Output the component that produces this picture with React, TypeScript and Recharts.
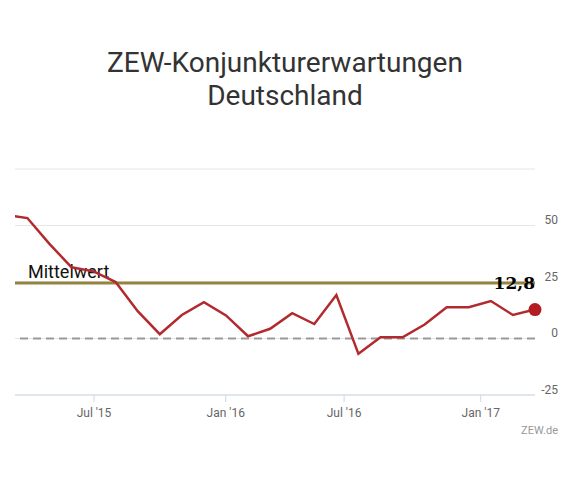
// ZEW-Konjunkturerwartungen Deutschland — monthly line with long-term mean.
import { LineChart, Line, XAxis, YAxis, CartesianGrid, ReferenceLine, ReferenceDot } from 'recharts';

// months Mär '15 .. Mär '17 (first point lies left of the visible range)
const monate = [
  "Mär '15", "Apr '15", "Mai '15", "Jun '15", "Jul '15", "Aug '15", "Sep '15", "Okt '15", "Nov '15", "Dez '15",
  "Jan '16", "Feb '16", "Mär '16", "Apr '16", "Mai '16", "Jun '16", "Jul '16", "Aug '16", "Sep '16", "Okt '16",
  "Nov '16", "Dez '16", "Jan '17", "Feb '17", "Mär '17",
];
const werte = [
  54.8, 53.3, 41.9, 31.5, 29.7, 25.0, 12.1, 1.9, 10.4, 16.1,
  10.2, 1.0, 4.3, 11.2, 6.4, 19.2, -6.8, 0.5, 0.5, 6.2,
  13.8, 13.8, 16.6, 10.4, 12.8,
];
const mittelwert = 24.6;

// tick positions in month units (index into monate)
const tickPos = [4.02, 9.99, 15.35, 21.54];
const tickLabels = ["Jul '15", "Jan '16", "Jul '16", "Jan '17"];
const yTicks = [-25, 0, 25, 50, 75];
const xStart = 0.44;

const data = werte.map((v, i) => ({ t: i, monat: monate[i], wert: v }));
const last = data[data.length - 1];

const font = 'Roboto, "Open Sans", sans-serif';

const XTick = (props: any) => {
  const { x, y, payload } = props;
  const i = tickPos.indexOf(payload.value);
  return (
    <text x={x} y={y} dy={12.5} textAnchor="middle" fontSize={12} fill="#666" fontFamily={font}>
      {tickLabels[i]}
    </text>
  );
};

const YTick = (props: any) => {
  const { x, y, payload } = props;
  if (payload.value === 75) return null;
  return (
    <text x={x} y={y - 5.5} textAnchor="end" dominantBaseline="central" fontSize={12} fill="#666" fontFamily={font}>
      {payload.value}
    </text>
  );
};

const MeanLabel = (props: any) => {
  const { viewBox } = props;
  return (
    <text x={viewBox.x + 13} y={viewBox.y - 5} fontSize={18} fill="#111" fontFamily={font}>
      Mittelwert
    </text>
  );
};

const LastDot = (props: any) => {
  const { cx, cy } = props;
  return (
    <g>
      <circle cx={cx} cy={cy} r={6.5} fill="#b31c22" />
      <text
        x={cx}
        y={cy - 21}
        textAnchor="end"
        fontSize={17}
        fontWeight="bold"
        fill="#000"
        fontFamily='"DejaVu Serif", serif'
      >
        {last.wert.toFixed(1).replace('.', ',')}
      </text>
    </g>
  );
};

export default function App() {
  return (
    <div style={{ position: 'absolute', left: 0, top: 0, width: 570, height: 480, background: '#fff' }}>
      <div
        style={{
          position: 'absolute', left: 0, top: 45.5, width: 570, textAlign: 'center',
          fontFamily: font, fontSize: 28, lineHeight: '33px', color: '#333',
        }}
      >
        ZEW-Konjunkturerwartungen<br />Deutschland
      </div>
      <LineChart width={570} height={480} data={data} margin={{ top: 169, right: 0, left: 15, bottom: 55 }}>
        <CartesianGrid horizontal vertical={false} stroke="#e6e6e6" />
        <XAxis
          type="number"
          dataKey="t"
          domain={[xStart, data.length - 1]}
          allowDataOverflow
          ticks={tickPos}
          tick={<XTick />}
          height={30}
          stroke="#ccd6eb"
          tickSize={7}
          tickMargin={2}
        />
        <YAxis
          orientation="right"
          domain={[-25, 75]}
          ticks={yTicks}
          width={35}
          axisLine={false}
          tickLine={false}
          tickSize={0}
          tickMargin={23}
          tick={<YTick />}
        />
        <ReferenceLine y={0} stroke="#999" strokeWidth={2} strokeDasharray="8 5" />
        <ReferenceLine y={mittelwert} stroke="#958341" strokeWidth={3} label={<MeanLabel />} />
        <Line
          type="linear"
          dataKey="wert"
          stroke="#b22a2e"
          strokeWidth={2.5}
          dot={false}
          activeDot={false}
          isAnimationActive={false}
        />
        <ReferenceDot x={last.t} y={last.wert} r={6.5} shape={<LastDot />} />
      </LineChart>
      <div
        style={{
          position: 'absolute', right: 12, top: 424, fontFamily: font, fontSize: 11, color: '#999',
        }}
      >
        ZEW.de
      </div>
    </div>
  );
}
